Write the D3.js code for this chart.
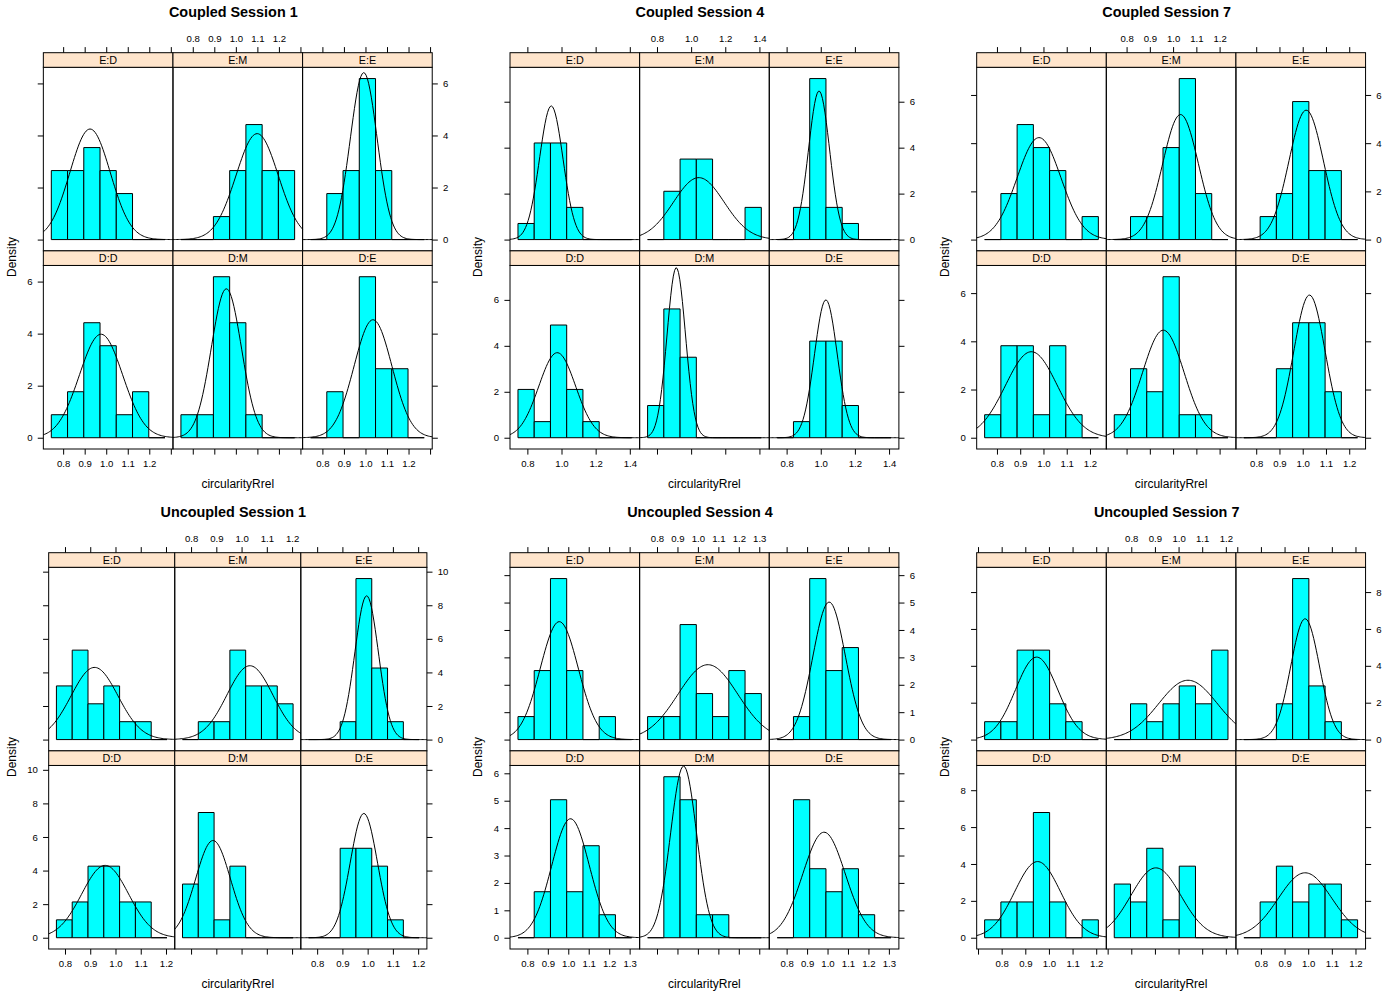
<!DOCTYPE html>
<html><head><meta charset="utf-8">
<script src="https://cdn.jsdelivr.net/npm/d3@7"></script>
<style>body{margin:0;background:#fff}</style>
</head><body><svg id="c" width="1400" height="1000"></svg>
<script>
// ---------------- data ----------------
const sessionTitles = ["Coupled Session 1","Coupled Session 4","Coupled Session 7",
                       "Uncoupled Session 1","Uncoupled Session 4","Uncoupled Session 7"];
// panels: top row then bottom row
const panelNames = ["E:D","E:M","E:E","D:D","D:M","D:E"];
const xlabText = "circularityRrel";
const ylabText = "Density";
const binCount = 7;
// histogram break ranges per session [first break, last break]
const breakRanges = [[0.745,1.273],[0.745,1.411],[0.747,1.236],[0.766,1.204],[0.754,1.310],[0.728,1.209]];

// counts per bin, panels in order E:D, E:M, E:E, D:D, D:M, D:E
const countsC1 = [[3,3,4,3,2,0,0],[0,0,1,3,5,3,3],[0,2,3,7,3,0,0],[1,2,5,4,1,2,0],[1,1,7,5,1,0,0],[0,2,0,7,3,3,0]];
const countsC4 = [[1,6,6,2,0,0,0],[0,3,5,5,0,0,2],[0,2,10,2,1,0,0],[3,1,7,3,1,0,0],[2,8,5,0,0,0,0],[0,1,6,6,2,0,0]];
const countsC7 = [[0,2,5,4,3,0,1],[0,1,1,4,7,2,0],[0,1,2,6,3,3,0],[1,4,4,1,4,1,0],[1,3,2,7,1,1,0],[0,0,3,5,5,2,0]];
const countsU1 = [[3,5,2,3,1,1,0],[0,1,1,5,3,3,2],[0,0,1,9,4,1,0],[1,2,4,4,2,2,0],[3,7,1,4,0,0,0],[0,0,5,5,4,1,0]];
const countsU4 = [[1,3,7,3,0,1,0],[1,1,5,2,1,3,2],[0,1,7,3,4,0,0],[0,2,6,2,4,1,0],[0,7,6,1,1,0,0],[0,6,3,2,3,1,0]];
const countsU7 = [[1,1,5,5,2,1,0],[0,2,1,2,3,2,5],[0,0,2,9,3,1,0],[1,2,2,7,2,0,1],[3,2,5,1,4,0,0],[0,2,4,2,3,3,1]];

// normal density curve parameters (mean, sd) per panel
const meansC1 = [0.925,1.099,0.992,0.976,0.956,1.035];
const sdsC1   = [0.0939,0.098,0.0622,0.1003,0.0697,0.088];
const meansC4 = [0.940,1.045,0.990,0.975,0.913,1.030];
const sdsC4   = [0.0686,0.148,0.0617,0.1078,0.0539,0.0665];
const meansC7 = [0.981,1.032,1.015,0.948,0.958,1.029];
const sdsC7   = [0.0943,0.0769,0.0743,0.1118,0.0894,0.0674];
const meansU1 = [0.917,1.033,0.996,0.959,0.887,0.985];
const sdsU1   = [0.0928,0.0907,0.0466,0.0926,0.0689,0.0539];
const meansU4 = [0.956,1.049,1.008,1.011,0.930,0.983];
const sdsU4   = [0.0927,0.146,0.0795,0.0919,0.0637,0.1036];
const meansU7 = [0.948,1.040,0.987,0.952,0.904,0.987];
const sdsU7   = [0.0892,0.124,0.0609,0.0966,0.1053,0.1133];

// tick values
const xTicksC1 = [0.8,0.9,1.0,1.1,1.2,1.3];
const xTicksC4 = [0.8,1.0,1.2,1.4];
const xTicksC7 = [0.8,0.9,1.0,1.1,1.2];
const xTicksU1 = [0.8,0.9,1.0,1.1,1.2];
const xTicksU4 = [0.8,0.9,1.0,1.1,1.2,1.3];
const xTicksU7 = [0.7,0.8,0.9,1.0,1.1,1.2];
const yTicksC1 = [0,2,4,6];
const yTicksC4 = [0,2,4,6];
const yTicksC7 = [0,2,4,6];
const yTicksU1 = [0,2,4,6,8,10];
const yTicksU4 = [0,1,2,3,4,5,6];
const yTicksU7 = [0,2,4,6,8];

const allCounts = [countsC1,countsC4,countsC7,countsU1,countsU4,countsU7];
const allMeans = [meansC1,meansC4,meansC7,meansU1,meansU4,meansU7];
const allSds = [sdsC1,sdsC4,sdsC7,sdsU1,sdsU4,sdsU7];
const allXTicks = [xTicksC1,xTicksC4,xTicksC7,xTicksU1,xTicksU4,xTicksU7];
const allYTicks = [yTicksC1,yTicksC4,yTicksC7,yTicksU1,yTicksU4,yTicksU7];

// ---------------- drawing ----------------
const FONT = "'Liberation Sans', Arial, Helvetica, sans-serif";
const CELL_W = 1400/3, CELL_H = 500;
const STRIP_TOP = 52.7, ROW_H = 198.15, STRIP_H = 14.6;
const TICK = 5.6, TICK_FS = 9.6;
const svg = d3.select("#c");

function dnorm(x, m, s){ return Math.exp(-0.5*((x-m)/s)**2)/(s*Math.sqrt(2*Math.PI)); }

sessionTitles.forEach((title, si) => {
  const ox = (si%3)*CELL_W, oy = Math.floor(si/3)*CELL_H;
  const g = svg.append("g").attr("transform", `translate(${ox},${oy})`);
  const counts = allCounts[si], means = allMeans[si], sds = allSds[si];
  const xTicks = allXTicks[si], yTicks = allYTicks[si];
  const [lo, hi] = breakRanges[si];
  const binW = (hi-lo)/binCount;
  const pad = 0.07*(hi-lo);
  const xDom = [lo-pad, hi+pad];
  const dens = counts.map(c => { const n = d3.sum(c); return c.map(k => k/(n*binW)); });
  const maxD = d3.max(dens.flat());
  const yDom = [-0.07*maxD, 1.07*maxD];

  // measure y label width
  const tmp = g.append("text").attr("font-family", FONT).attr("font-size", TICK_FS);
  let lw = 0;
  yTicks.forEach(t => { tmp.text(String(t)); lw = Math.max(lw, tmp.node().getComputedTextLength()); });
  tmp.remove();
  const left = 38 + lw, right = CELL_W - 29.1 - lw;
  const colW = (right-left)/3;

  // title
  g.append("text").attr("x", CELL_W/2).attr("y", 17).attr("text-anchor","middle")
    .attr("font-family", FONT).attr("font-size", 14.4).attr("font-weight","bold").text(title);
  // xlab
  g.append("text").attr("x", (left+right)/2).attr("y", 488).attr("text-anchor","middle")
    .attr("font-family", FONT).attr("font-size", 12).text(xlabText);
  // ylab
  g.append("text").attr("transform", `translate(15.5,257) rotate(-90)`).attr("text-anchor","middle")
    .attr("font-family", FONT).attr("font-size", 12).text(ylabText);

  panelNames.forEach((name, pi) => {
    const r = Math.floor(pi/3), c = pi%3;
    const x0 = left + c*colW, x1 = x0 + colW;
    const stripY = STRIP_TOP + r*ROW_H, plotTop = stripY + STRIP_H, plotBot = STRIP_TOP + (r+1)*ROW_H;
    const xs = d3.scaleLinear().domain(xDom).range([x0, x1]);
    const ys = d3.scaleLinear().domain(yDom).range([plotBot, plotTop]);
    const pg = g.append("g");

    // bars
    const bins = dens[pi].map((d, i) => ({d, a: lo + i*binW, b: lo + (i+1)*binW}));
    pg.selectAll("path.bar").data(bins).join("path").attr("class","bar")
      .attr("d", o => `M${xs(o.a)},${ys(0)}V${ys(o.d)}H${xs(o.b)}V${ys(0)}Z`)
      .attr("fill", "#00FFFF").attr("stroke", "#000").attr("stroke-width", 1);

    // density curve
    const pts = d3.range(0, 101).map(i => xDom[0] + i*(xDom[1]-xDom[0])/100);
    const line = d3.line().x(x => xs(x)).y(x => ys(dnorm(x, means[pi], sds[pi])));
    pg.append("path").attr("d", line(pts)).attr("fill","none").attr("stroke","#000").attr("stroke-width",1);

    // panel border
    pg.append("rect").attr("x", x0).attr("y", plotTop).attr("width", colW).attr("height", plotBot-plotTop)
      .attr("fill","none").attr("stroke","#000");
    // strip
    pg.append("rect").attr("x", x0).attr("y", stripY).attr("width", colW).attr("height", STRIP_H)
      .attr("fill","#FFE5CC").attr("stroke","#000");
    pg.append("text").attr("x", (x0+x1)/2).attr("y", stripY+11.5).attr("text-anchor","middle")
      .attr("font-family", FONT).attr("font-size", 10.8).text(name);

    function styleAxis(ax, showLabels, isX){
      ax.select(".domain").remove();
      ax.selectAll("line").attr("stroke","#000");
      ax.selectAll("text").attr("font-family", FONT).attr("font-size", TICK_FS).attr("fill","#000");
      ax.attr("font-family", null).attr("font-size", null);
      if (!showLabels) ax.selectAll("text").remove();
      else if (isX) {
        ax.selectAll(".tick").each(function(t){
          const tx = d3.select(this).select("text");
          const w = tx.node().getComputedTextLength();
          if (xs(t) - w/2 < x0 - 0.5 || xs(t) + w/2 > x1 + 0.5) tx.remove();
        });
      }
    }
    const xFmt = d3.format(".1f");
    const yFmt = d => String(d);
    // top axis on top row
    if (r === 0) {
      const ax = pg.append("g").attr("transform", `translate(0,${stripY})`)
        .call(d3.axisTop(xs).tickValues(xTicks).tickSize(TICK).tickPadding(5.4).tickFormat(xFmt));
      styleAxis(ax, c === 1, true);
    }
    // bottom axis on bottom row
    if (r === 1) {
      const ax = pg.append("g").attr("transform", `translate(0,${plotBot})`)
        .call(d3.axisBottom(xs).tickValues(xTicks).tickSize(TICK).tickPadding(5.3).tickFormat(xFmt));
      styleAxis(ax, c !== 1, true);
    }
    // left axis
    if (c === 0) {
      const ax = pg.append("g").attr("transform", `translate(${x0},0)`)
        .call(d3.axisLeft(ys).tickValues(yTicks).tickSize(TICK).tickPadding(5.2).tickFormat(yFmt));
      styleAxis(ax, r === 1, false);
    }
    // right axis
    if (c === 2) {
      const ax = pg.append("g").attr("transform", `translate(${x1},0)`)
        .call(d3.axisRight(ys).tickValues(yTicks).tickSize(TICK).tickPadding(5.2).tickFormat(yFmt));
      styleAxis(ax, r === 0, false);
    }
  });
});
</script>
</body></html>
